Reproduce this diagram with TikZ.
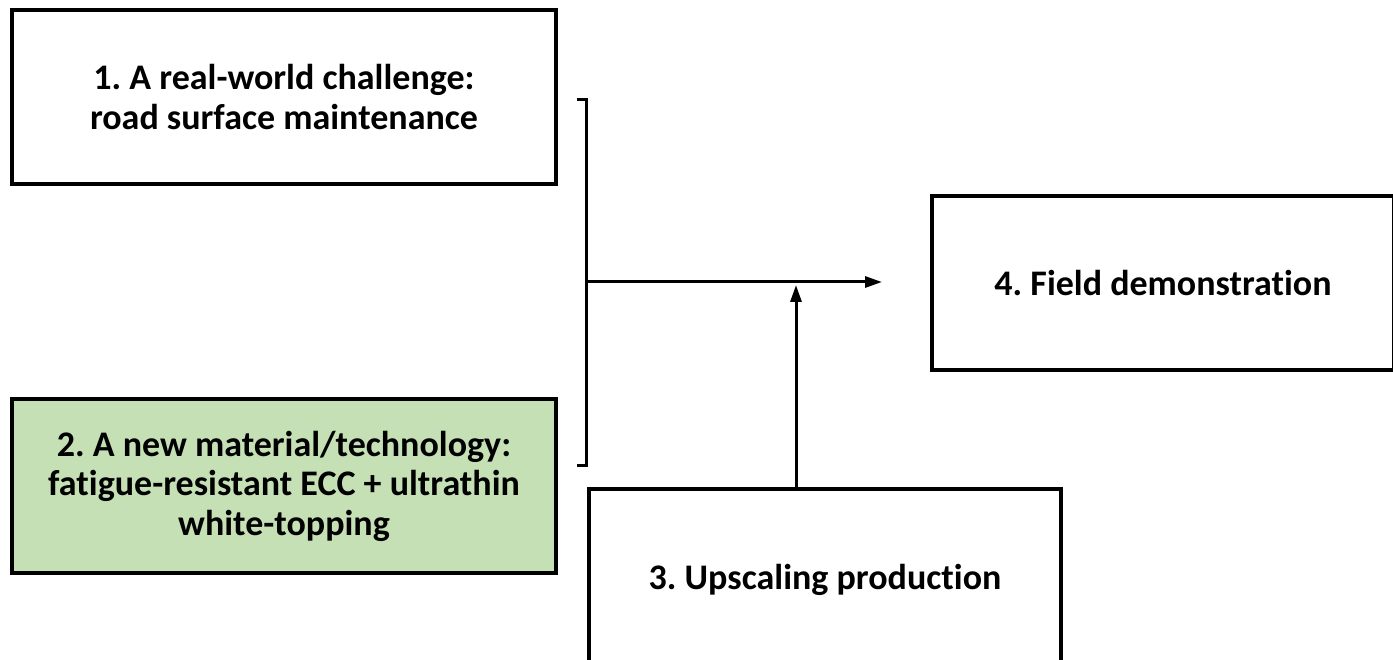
\documentclass[tikz,border=0pt]{standalone}
\usepackage{fontspec}
\setmainfont{Carlito}[Ligatures=NoCommon]
\usetikzlibrary{arrows.meta}
\definecolor{stagegreen}{HTML}{C5E0B4}
\tikzset{
  stagebox/.style={draw=black, line width=4pt, inner sep=0pt, align=center,
    font=\frenchspacing\fontsize{36}{39.5}\selectfont\bfseries},
  link/.style={draw=black, line width=3pt},
  flow/.style={link, -{Triangle[length=17pt,width=11pt]}},
}
\begin{document}
\begin{tikzpicture}[x=1pt,y=-1pt]
  \useasboundingbox (0,0) rectangle (1393,660);
  \fill[white] (0,0) rectangle (1393,660);

  % stage boxes
  \node[stagebox, minimum width=544pt, minimum height=174pt] (challenge) at (284,97)
    {1. A real-world challenge:\\road surface maintenance};
  \node[stagebox, fill=stagegreen, minimum width=544pt, minimum height=174pt] (material) at (284,486)
    {2. A new material/technology:\\fatigue-resistant ECC + ultrathin\\white-topping};
  \node[stagebox, minimum width=472pt, minimum height=182pt] (upscale) at (825,580)
    {3. Upscaling production};
  \node[stagebox, minimum width=462pt, minimum height=174pt] (field) at (1163,283)
    {4. Field demonstration};

  % bracket joining stages 1 and 2
  \coordinate (brTop) at (586,100);
  \coordinate (brBot) at (586,465);
  \coordinate (brMid) at (586,282);
  \draw[link] ([xshift=-9pt]brTop) -- (brTop) -- (brBot) -- ([xshift=-9pt]brBot);

  % arrows towards the field demonstration
  \coordinate (flowEnd) at (882,282);
  \coordinate (upFoot) at (796,489);
  \coordinate (upTip) at (796,285);
  \draw[flow] (brMid) -- (flowEnd);
  \draw[flow] (upFoot) -- (upTip);
\end{tikzpicture}
\end{document}
